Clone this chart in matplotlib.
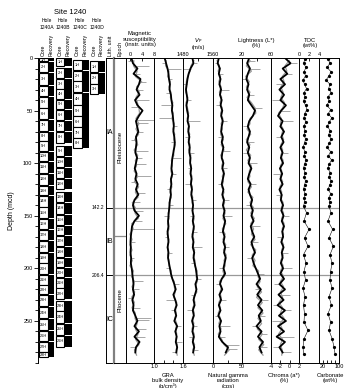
import matplotlib
matplotlib.use("Agg")
import matplotlib.pyplot as plt
from matplotlib.patches import Rectangle
from matplotlib.ticker import MultipleLocator
import numpy as np

plt.rcParams['font.family'] = ['Liberation Sans', 'DejaVu Sans']
plt.rcParams['axes.linewidth'] = 0.7
plt.rcParams['xtick.major.width'] = 0.6
plt.rcParams['ytick.major.width'] = 0.6
plt.rcParams['ytick.minor.width'] = 0.6

W, H = 347, 388          # figure size in px
TOP, BOT = 58, 363       # depth 0 / depth DMAX in px
DMAX = 290

# ================= data =================
# cores (mcd)
A_top = [0, 3.5, 14, 27, 37, 48, 58.5, 70, 79, 89, 98.5, 110, 122, 131, 142, 153, 163.5, 174,
         185, 195, 206, 216, 225, 236.5, 248, 259.5, 270, 280]
A_bot = [3, 13.5, 26, 36.5, 47.5, 58, 69, 78.5, 88.5, 98, 109.5, 121, 130.5, 141.5, 152.5, 163,
         173.5, 184.5, 194.5, 205.5, 215.5, 224.5, 236, 247.5, 259, 269.5, 279.5, 284]
B_top = [0, 9.5, 19.5, 29.5, 39.5, 49, 59.5, 70.5, 83.5, 94.5, 105, 115.5, 127.5, 138, 149, 159.5,
         169, 179.5, 190, 199.5, 209, 219, 231, 241, 252.5, 264]
B_bot = [8, 19, 29, 39, 48.5, 58.5, 69.5, 80.5, 93.5, 104, 114.5, 125, 137, 148, 158.5, 168.5, 179,
         189.5, 199, 208.5, 218.5, 229, 240.5, 251.5, 263, 274.5]
C_top = [2, 12, 22, 33.5, 45, 55.5, 66, 76.5]
C_bot = [11.5, 21.5, 32.5, 44.5, 55, 65.5, 76, 86]
D_top = [3, 14, 25]
D_bot = [13.5, 24.5, 34]

UNIT_NAMES = ['IA', 'IB', 'IC']
UNIT_EDGES = [0, 142.2, 206.4, DMAX]
EPOCH_NAMES = ['Pleistocene', 'Pliocene']
EPOCH_EDGES = [0, 169.5, DMAX]

# smoothed logs (black), every 5 m
depth_s = np.arange(0, 285, 5)
# raw logs (grey), between smoothed points
depth_r = np.arange(2.5, 285, 5)

magsus_s = [0.5, 1.0, 2.5, 1.2, 3.5, 3.0, 2.2, 3.2, 1.7, 2.5,
            4.2, 3.0, 2.0, 2.4, 2.8, 2.0, 2.2, 2.0, 1.8, 2.4,
            2.0, 1.6, 2.2, 1.8, 2.6, 2.0, 2.8, 1.5, 1.0, 1.5,
            3.0, 1.5, 0.7, 0.5, 0.3, 0.2, 0.3, 0.2, 0.4, 0.3,
            0.6, 0.8, 1.0, 1.2, 1.0, 1.4, 0.8, 1.2, 1.0, 1.8,
            2.5, 1.5, 3.0, 1.5, 3.2, 2.0, 1.8]
magsus_r = [1.3, 1.2, 2.4, 1.8, 3.9, 2.2, 3.1, 2.0, 2.5, 3.0,
            3.2, 2.0, 3.0, 2.0, 2.9, 1.6, 2.6, 1.4, 2.6, 1.8,
            2.2, 1.4, 2.6, 1.5, 2.9, 1.8, 2.7, 0.8, 1.8, 1.7,
            2.8, 0.6, 1.1, 0.0, 0.7, 0.0, 0.7, 0.0, 0.8, 0.0,
            1.2, 0.5, 1.5, 0.7, 1.6, 0.6, 1.5, 0.7, 1.8, 1.7,
            2.4, 1.8, 2.7, 1.9, 3.0, 1.5, 2.2]
magsus_spk_d = [8, 23, 40, 59, 62, 88, 101, 112, 128, 162.5, 212, 247, 249, 258,
                3, 15, 30, 47, 70, 78, 95, 118, 137, 145, 155, 175, 190, 220, 228, 238, 265, 275]
magsus_spk_v = [6.5, 5.5, 6.5, 8.0, 6.0, 6.0, 5.5, 7.0, 5.0, 8.0, 4.5, 7.0, 6.5, 5.5,
                -0.8, 3.5, 4.5, 0.2, 4.5, 0.5, 4.0, 0.3, 3.5, 4.5, 4.0, 1.8, 1.5, 3.0, -0.8, 3.2, 5.0, 0.0]

gra_s = [1.22, 1.25, 1.28, 1.30, 1.31, 1.33, 1.32, 1.35, 1.36, 1.38,
         1.37, 1.39, 1.40, 1.41, 1.40, 1.42, 1.43, 1.42, 1.40, 1.38,
         1.37, 1.36, 1.38, 1.35, 1.36, 1.34, 1.35, 1.33, 1.32, 1.31,
         1.30, 1.29, 1.30, 1.28, 1.29, 1.30, 1.28, 1.30, 1.29, 1.31,
         1.33, 1.35, 1.38, 1.42, 1.45, 1.40, 1.44, 1.47, 1.43, 1.46,
         1.42, 1.48, 1.44, 1.47, 1.45, 1.48, 1.46]
gra_r = [1.25, 1.24, 1.31, 1.28, 1.34, 1.31, 1.35, 1.34, 1.39, 1.36,
         1.40, 1.37, 1.42, 1.39, 1.43, 1.41, 1.44, 1.40, 1.41, 1.36,
         1.38, 1.35, 1.38, 1.34, 1.37, 1.33, 1.36, 1.31, 1.33, 1.29,
         1.31, 1.28, 1.31, 1.27, 1.31, 1.28, 1.30, 1.28, 1.31, 1.31,
         1.36, 1.35, 1.42, 1.42, 1.44, 1.41, 1.47, 1.44, 1.46, 1.43,
         1.47, 1.45, 1.47, 1.45, 1.48, 1.46, 1.48]
gra_spk_d = [10, 45, 57, 95, 150, 230, 270,
             5, 20, 33, 65, 80, 110, 125, 140, 170, 185, 200, 215, 240, 255, 280]
gra_spk_v = [1.55, 1.15, 1.10, 1.55, 1.20, 1.25, 1.58,
             1.16, 1.38, 1.24, 1.48, 1.35, 1.46, 1.27, 1.40, 1.22, 1.37, 1.24, 1.52, 1.36, 1.55, 1.38]

vp_s = [1505, 1508, 1500, 1495, 1492, 1490, 1488, 1490, 1492, 1489,
        1491, 1494, 1492, 1496, 1494, 1497, 1495, 1498, 1497, 1500,
        1499, 1502, 1500, 1503, 1501, 1504, 1502, 1505, 1507, 1505,
        1508, 1506, 1509, 1507, 1505, 1508, 1506, 1510, 1508, 1511,
        1514, 1516, 1518, 1513, 1516, 1512, 1508, 1511, 1506, 1509,
        1504, 1508, 1505, 1509, 1506, 1510, 1507]
vp_r = [1509, 1501, 1499, 1492, 1489, 1488, 1487, 1493, 1488, 1492,
        1495, 1491, 1496, 1493, 1498, 1494, 1499, 1495, 1501, 1498,
        1502, 1499, 1504, 1500, 1505, 1501, 1506, 1504, 1508, 1505,
        1510, 1506, 1510, 1504, 1509, 1505, 1511, 1507, 1512, 1511,
        1518, 1515, 1518, 1513, 1517, 1508, 1512, 1506, 1510, 1505,
        1509, 1504, 1510, 1505, 1511, 1506, 1510]
vp_spk_d = [10, 60, 120, 180, 240,
            5, 25, 40, 75, 90, 105, 135, 150, 165, 195, 210, 225, 255, 265, 278]
vp_spk_v = [1475, 1525, 1485, 1530, 1490,
            1518, 1480, 1500, 1486, 1508, 1492, 1515, 1498, 1518, 1500, 1528, 1502, 1518, 1497, 1520]

ngr_s = [10, 8, 12, 10, 13, 11, 14, 12, 15, 13,
         16, 14, 17, 15, 14, 17, 15, 18, 16, 15,
         18, 16, 19, 17, 15, 18, 16, 19, 17, 20,
         18, 21, 19, 17, 20, 18, 21, 19, 22, 20,
         18, 21, 15, 12, 16, 11, 14, 10, 13, 9,
         14, 11, 13, 10, 16, 26, 22]
ngr_r = [7, 11, 9, 13, 10, 14, 11, 15, 12, 16,
         13, 17, 14, 16, 13, 18, 14, 19, 13, 18,
         15, 19, 16, 18, 15, 19, 16, 20, 17, 21,
         17, 22, 16, 21, 17, 22, 18, 23, 19, 21,
         17, 20, 11, 15, 12, 14, 10, 13, 9, 13,
         10, 14, 9, 15, 19, 28, 20]
ngr_spk_d = [30, 88, 150, 255, 273, 277,
             5, 15, 45, 60, 75, 105, 120, 135, 165, 180, 200, 215, 230, 245, 265]
ngr_spk_v = [28, 30, 32, 30, 45, 42,
             3, 18, 6, 24, 9, 24, 8, 27, 10, 28, 11, 5, 22, 3, 20]

lstar_s = [30, 27, 31, 28, 26, 29, 27, 30, 28, 33,
           38, 35, 30, 28, 31, 29, 27, 30, 28, 31,
           29, 33, 30, 28, 32, 29, 31, 34, 32, 35,
           33, 36, 32, 34, 37, 33, 35, 38, 34, 36,
           39, 42, 45, 40, 46, 41, 47, 42, 48, 43,
           46, 40, 47, 42, 49, 44, 47]
lstar_r = [31, 26, 33, 25, 30, 26, 31, 27, 33, 38,
           39, 31, 31, 27, 32, 26, 31, 26, 32, 28,
           33, 30, 31, 28, 33, 28, 35, 31, 36, 32,
           37, 32, 36, 33, 38, 32, 39, 34, 38, 35,
           43, 42, 45, 41, 47, 40, 48, 42, 49, 42,
           47, 41, 48, 43, 50, 43, 49]
lstar_spk_d = [10, 48, 100, 160, 230, 262,
               3, 20, 35, 65, 80, 90, 120, 140, 175, 190, 205, 220, 245, 255, 275]
lstar_spk_v = [45, 48, 40, 45, 56, 55,
               38, 20, 37, 22, 36, 22, 39, 26, 42, 27, 50, 38, 52, 34, 54]

chroma_s = [-1.0, 0.2, -1.5, -0.5, -2.0, -1.0, -2.2, -1.2, -2.0, -0.8,
            -1.8, -2.5, -1.5, -2.0, -1.2, -1.8, -1.3, -2.0, -1.5, -1.9,
            -1.4, -2.1, -1.6, -2.0, -1.5, -2.2, -1.7, -1.9, -1.4, -1.8,
            -1.3, -1.7, -1.2, -1.6, -1.4, -1.8, -1.3, -1.7, -1.5, -1.9,
            -1.4, -2.0, -1.2, -2.2, -1.0, -2.4, -1.3, -2.6, -1.0, -2.3,
            -0.8, -2.5, -1.2, -2.8, -1.0, -2.2, -1.5]
chroma_r = [-0.1, -1.0, -0.6, -1.6, -1.2, -1.9, -1.4, -1.9, -1.1, -1.5,
            -2.4, -1.8, -2.0, -1.4, -1.7, -1.3, -1.9, -1.5, -1.9, -1.4,
            -2.0, -1.7, -2.0, -1.5, -2.1, -1.7, -2.0, -1.4, -1.8, -1.3,
            -1.7, -1.2, -1.6, -1.3, -1.8, -1.3, -1.7, -1.4, -1.9, -1.4,
            -2.0, -1.3, -2.0, -1.3, -2.0, -1.5, -2.3, -1.5, -2.0, -1.2,
            -2.1, -1.6, -2.4, -1.5, -2.0, -1.6, -1.7]
chroma_spk_d = [5, 40, 60, 110, 200, 250, 265,
                15, 25, 50, 75, 90, 130, 150, 170, 185, 215, 225, 235, 240, 275, 280]
chroma_spk_v = [1.5, -3.8, 0.8, -3.5, 0.5, -3.8, 1.0,
                0.5, -3.0, 0.0, -3.0, -0.3, -3.0, -0.2, -2.8, -0.3, -3.3, 0.0, -3.6, 0.3, -3.5, 0.2]

# discrete samples
samp_depth = [1, 5, 9, 13, 17, 21, 25, 29, 33, 37, 41, 45, 49, 53, 57, 61, 65, 69, 73, 77,
              81, 85, 89, 93, 97, 101, 105, 109, 113, 117, 121, 125, 129, 133, 137, 141,
              147, 155, 163, 171, 179, 187, 195, 203,
              211, 219, 227, 235, 243, 251, 259, 267, 275, 281]
toc = [1.2, 0.9, 1.4, 1.0, 1.3, 0.8, 1.1, 1.5, 1.0, 1.2, 0.9, 1.3, 1.6, 1.1, 1.0, 1.4, 0.9, 1.2,
       1.0, 1.3, 1.1, 0.8, 1.2, 1.0, 1.4, 1.1, 0.9, 1.2, 1.0, 1.3, 1.1, 0.9, 1.2, 1.0, 1.1, 0.9,
       1.5, 1.0, 2.0, 1.1, 1.8, 0.9, 1.4, 1.0,
       1.3, 0.8, 1.2, 0.9, 1.1, 1.0, 1.8, 1.0, 0.8, 0.9]
caco3 = [45, 55, 40, 60, 50, 35, 55, 48, 62, 44, 52, 38, 58, 46, 64, 50, 42, 56,
         48, 60, 52, 40, 58, 47, 63, 50, 44, 57, 49, 61, 53, 45, 59, 48, 55, 50,
         60, 45, 68, 50, 72, 55, 65, 58,
         55, 65, 50, 62, 45, 58, 50, 66, 75, 80]

# ================= figure =================
fig = plt.figure(figsize=(W / 100, H / 100), dpi=100)


def axes_px(x0, x1):
    return fig.add_axes([x0 / W, 1 - BOT / H, (x1 - x0) / W, (BOT - TOP) / H])


def text_px(x, y, s, **kw):
    kw.setdefault('fontsize', 4)
    kw.setdefault('ha', 'center')
    kw.setdefault('va', 'center')
    fig.text(x / W, 1 - y / H, s, **kw)


# ---- cores ----
axc = axes_px(38, 106)
axc.set_xlim(38, 106)
axc.set_ylim(DMAX, 0)
for sp in ['top', 'right', 'bottom']:
    axc.spines[sp].set_visible(False)
axc.set_xticks([])
axc.yaxis.set_major_locator(MultipleLocator(50))
axc.yaxis.set_minor_locator(MultipleLocator(10))
axc.tick_params(axis='y', which='major', length=3, labelsize=4, pad=1)
axc.tick_params(axis='y', which='minor', length=2)
axc.set_ylabel('Depth (mcd)', fontsize=5)
axc.yaxis.set_label_coords(-0.34, 0.5)

holes = [
    (A_top, A_bot, 39, 48, 48, 54),
    (B_top, B_bot, 56, 64, 64, 72),
    (C_top, C_bot, 73, 82, 82, 89),
    (D_top, D_bot, 90, 98, 98, 105),
]
for tops, bots, c0, c1, r0, r1 in holes:
    for i, (t, b) in enumerate(zip(tops, bots)):
        axc.add_patch(Rectangle((c0, t), c1 - c0, b - t, fc='white', ec='k', lw=0.8))
        axc.add_patch(Rectangle((r0, t), r1 - r0, b - t, fc='k', ec='none'))
        axc.text((c0 + c1) / 2, (t + b) / 2, f'{i + 1}H', fontsize=2.8,
                 ha='center', va='center', clip_on=True)

for d in UNIT_EDGES[1:-1]:
    axc.text(104.5, d, f'{d}', fontsize=3.6, ha='right', va='center')

# ---- lith unit column ----
axl = axes_px(106, 114)
axl.set_xlim(0, 1)
axl.set_ylim(DMAX, 0)
axl.set_xticks([])
axl.set_yticks([])
for d in UNIT_EDGES[1:-1]:
    axl.axhline(d, color='k', lw=0.7)
for name, d0, d1 in zip(UNIT_NAMES, UNIT_EDGES[:-1], UNIT_EDGES[1:]):
    axl.text(0.5, (d0 + d1) / 2, name, fontsize=5, ha='center', va='center')

# ---- epoch column ----
axe = axes_px(114, 126)
axe.set_xlim(0, 1)
axe.set_ylim(DMAX, 0)
axe.set_xticks([])
axe.set_yticks([])
axe.spines['left'].set_color('0.5')
axe.spines['left'].set_linewidth(1.6)
axe.axhline(EPOCH_EDGES[1], color='0.55', lw=0.9)
for d in UNIT_EDGES[1:-1]:
    axe.axhline(d, color='0.6', lw=0.9)
for name, d0, d1 in zip(EPOCH_NAMES, EPOCH_EDGES[:-1], EPOCH_EDGES[1:]):
    axe.text(0.5, (d0 + d1) / 2, name, fontsize=4.5, rotation=90, ha='center', va='center')


# ---- log panels ----
def panel(x0, x1, xlim, ticks, labels, side):
    ax = axes_px(x0, x1)
    ax.set_xlim(*xlim)
    ax.set_ylim(DMAX, 0)
    ax.set_yticks([])
    ax.set_xticks(ticks)
    ax.set_xticklabels(labels)
    if side == 'top':
        ax.xaxis.tick_top()
    ax.tick_params(axis='x', direction='in', length=2.5, labelsize=4, pad=1)
    for d in UNIT_EDGES[1:-1]:
        ax.axhline(d, color='0.6', lw=0.9, zorder=0)
    return ax


logs = [
    (126, 154, (-1.3, 8), [0, 4, 8], ['0', '4', '8'], 'top',
     magsus_r, magsus_s, magsus_spk_d, magsus_spk_v),
    (154, 183, (1.0, 1.6), [1.0, 1.2, 1.4, 1.6], ['1.0', '', '', '1.6'], 'bottom',
     gra_r, gra_s, gra_spk_d, gra_spk_v),
    (183, 213, (1480, 1560), [1480, 1520, 1560], ['1480', '', '1560'], 'top',
     vp_r, vp_s, vp_spk_d, vp_spk_v),
    (213, 242, (0, 50), [0, 25, 50], ['0', '', '50'], 'bottom',
     ngr_r, ngr_s, ngr_spk_d, ngr_spk_v),
    (242, 271, (20, 60), [20, 40, 60], ['20', '', '60'], 'top',
     lstar_r, lstar_s, lstar_spk_d, lstar_spk_v),
    (271, 299, (-4, 2), [-4, -2, 0, 2], ['-4', '-2', '0', '2'], 'bottom',
     chroma_r, chroma_s, chroma_spk_d, chroma_spk_v),
]
for x0, x1, xlim, ticks, labels, side, raw, smooth, spk_d, spk_v in logs:
    ax = panel(x0, x1, xlim, ticks, labels, side)
    ax.plot(raw, depth_r, color='0.6', lw=0.9)
    base = np.interp(spk_d, depth_s, smooth)
    ax.hlines(spk_d, base, spk_v, color='0.6', lw=0.6)
    ax.plot(smooth, depth_s, color='k', lw=1.3)

ax_toc = panel(299, 319, (0, 4), [0, 2, 4], ['0', '2', '4'], 'top')
ax_toc.plot(toc, samp_depth, color='k', lw=0.4, marker='o', ms=1.3)
ax_cc = panel(319, 339, (0, 100), [20, 40, 60, 80, 100], ['20', '', '', '', '100'], 'bottom')
ax_cc.plot(caco3, samp_depth, color='k', lw=0.4, marker='o', ms=1.3)

# ---- header text ----
text_px(70, 12, 'Site 1240', fontsize=5.5)
for x, h in zip([47, 63, 80, 97], ['A', 'B', 'C', 'D']):
    text_px(x, 24, f'Hole\n1240{h}', fontsize=3.6, linespacing=1.3)
for x, s in zip([43.5, 51, 60, 68, 77.5, 85.5, 94, 101.5],
                ['Core', 'Recovery'] * 4):
    text_px(x, 56, s, fontsize=3.8, rotation=90, va='bottom')
text_px(110, 56, 'Lith. unit', fontsize=3.8, rotation=90, va='bottom')
text_px(120, 56, 'Epoch', fontsize=3.8, rotation=90, va='bottom')

text_px(140, 39, 'Magnetic\nsusceptibility\n(instr. units)', fontsize=4.2, linespacing=1.15)
text_px(198, 43, '$V_\\mathrm{P}$\n(m/s)', fontsize=4.2, linespacing=1.15)
text_px(256, 43, 'Lightness (L*)\n(%)', fontsize=4.2, linespacing=1.15)
text_px(310, 43, 'TOC\n(wt%)', fontsize=4.2, linespacing=1.15)

text_px(168, 381, 'GRA\nbulk density\n(g/cm³)', fontsize=4.2, linespacing=1.15)
text_px(228, 381, 'Natural gamma\nradiation\n(cps)', fontsize=4.2, linespacing=1.15)
text_px(284, 378, 'Chroma (a*)\n(%)', fontsize=4.2, linespacing=1.15)
text_px(330, 378, 'Carbonate\n(wt%)', fontsize=4.2, linespacing=1.15)

fig.savefig('out.png', dpi=100)
